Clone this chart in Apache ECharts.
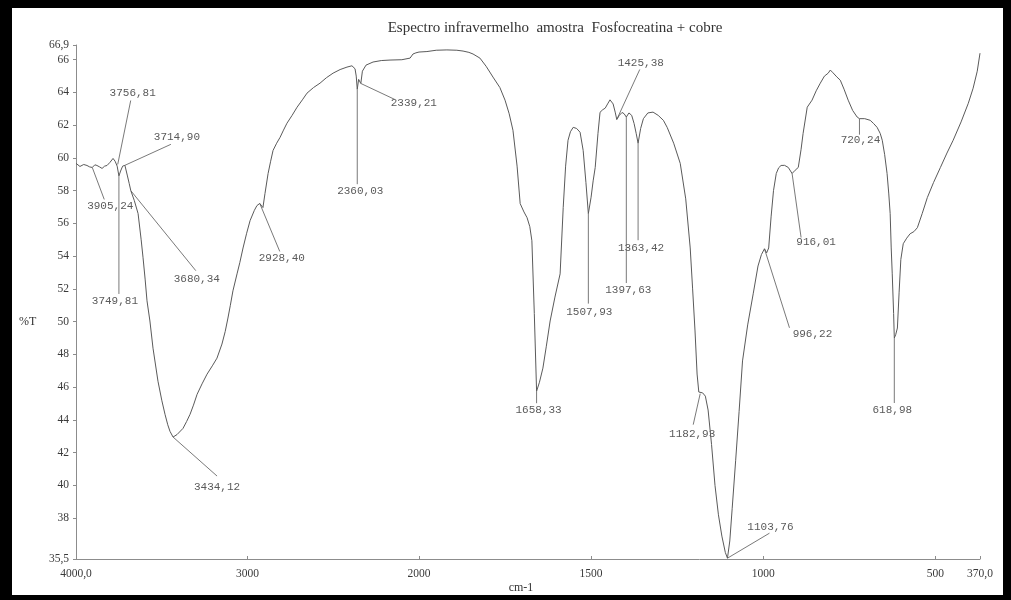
<!DOCTYPE html>
<html>
<head>
<meta charset="utf-8">
<script src="https://cdn.jsdelivr.net/npm/echarts@6.0.0/dist/echarts.min.js"></script>
<style>
  html, body { margin: 0; padding: 0; background: #000; }
  #chart { width: 1011px; height: 600px; }
</style>
</head>
<body>
<div id="chart"></div>
<script>
// IR spectrum: wavenumber (cm-1) against transmittance (%T)
const chartTitle = 'Espectro infravermelho  amostra  Fosfocreatina + cobre';
const yAxisTitle = '%T';
const xAxisTitle = 'cm-1';

const wavenumbers = [
  4000, 3977, 3955, 3936, 3920, 3905.24, 3890, 3878, 3862, 3848, 3833, 3819, 3802, 3784, 3772, 3760,
  3756.81, 3749.81, 3740, 3728, 3714.90, 3700, 3690, 3680.34, 3660, 3638, 3620, 3609, 3597, 3586, 3569,
  3551, 3522, 3500, 3481, 3465, 3452, 3434.12, 3411, 3376, 3355, 3335, 3315, 3294, 3265, 3236, 3205,
  3178, 3149, 3130, 3114, 3100, 3085, 3061, 3045, 3026, 3005, 2985, 2960, 2945, 2928.40, 2918, 2910,
  2898, 2880, 2865, 2851, 2830, 2810, 2790, 2770, 2740, 2711, 2680, 2653, 2615, 2577, 2540, 2501, 2460,
  2420, 2391, 2373, 2366, 2360.03, 2352, 2345, 2339.21, 2330, 2309, 2268, 2220, 2169, 2100, 2052, 2035,
  2018, 2000,
  1977, 1950, 1919, 1890, 1872, 1855, 1843, 1823, 1805, 1785, 1765, 1750, 1738, 1727, 1715, 1706, 1695,
  1686, 1678, 1672, 1665, 1658.33, 1650, 1640, 1630, 1619, 1605, 1590, 1581, 1574, 1567, 1560, 1552,
  1542, 1532, 1523, 1515, 1507.93, 1500, 1494, 1488, 1480, 1474, 1466, 1459, 1452, 1445, 1436, 1430,
  1425.38, 1418, 1410, 1404, 1397.63, 1390, 1382, 1375, 1369, 1363.42, 1356, 1348, 1335, 1320, 1305,
  1290, 1279, 1260, 1241, 1225, 1212, 1205, 1198, 1192, 1187, 1182.93, 1176, 1168, 1160, 1150, 1140,
  1130, 1120, 1110, 1103.76, 1097, 1090, 1080, 1070, 1060, 1045, 1029, 1015, 1005, 996.22, 990, 984,
  977, 970, 962, 955, 948, 938, 927, 916.01, 907, 898, 890, 884, 872, 858, 846, 834, 822, 811, 805, 797,
  786, 776, 765, 753, 740, 727, 720.24, 705, 689, 679, 669, 660, 654, 647, 640, 635, 631, 628, 625, 621,
  618.98, 615, 610, 605, 600, 593, 583, 573, 562, 552, 538, 523, 505, 485, 466, 448, 425, 404, 390, 378,
  370
];

const transmittance = [
  59.67, 59.48, 59.60, 59.54, 59.45, 59.42, 59.58, 59.54, 59.45, 59.36, 59.50, 59.54, 59.73, 59.97, 59.80, 59.50,
  59.60, 58.90, 59.20, 59.50, 59.55, 58.90, 58.45, 58.00, 57.40, 56.60, 55.00, 53.90, 52.60, 51.27, 50.04,
  48.38, 46.36, 45.20, 44.34, 43.70, 43.30, 42.95, 43.10, 43.48, 43.90, 44.34, 44.90, 45.56, 46.20, 46.79, 47.30,
  47.77, 48.63, 49.40, 50.22, 51.00, 51.88, 52.92, 53.60, 54.50, 55.40, 56.17, 56.80, 57.09, 57.22, 57.10, 56.97,
  57.83, 59.05, 59.80, 60.46, 60.90, 61.26, 61.70, 62.12, 62.60, 63.10, 63.55, 63.96, 64.30, 64.57, 64.90, 65.18, 65.40,
  65.55, 65.63, 65.45, 65.00, 64.20, 64.80, 64.75, 64.55, 65.30, 65.67, 65.86, 65.95, 65.98, 66.00, 66.10, 66.35,
  66.42, 66.47,
  66.50, 66.58, 66.60, 66.58, 66.53, 66.45, 66.35, 66.10, 65.60, 64.94, 64.30, 63.53, 62.70, 61.69, 59.50, 57.21, 56.70,
  56.35, 55.80, 54.94, 50.50, 45.75, 46.30, 47.16, 48.50, 50.04, 51.50, 52.92, 56.97, 59.50, 61.08, 61.60, 61.87,
  61.80, 61.57, 60.46, 58.50, 56.60, 57.60, 58.60, 59.42, 61.50, 62.79, 62.95, 63.04, 63.30, 63.55, 63.30, 62.80,
  62.35, 62.60, 62.78, 62.70, 62.50, 62.75, 62.60, 62.10, 61.50, 60.90, 61.80, 62.40, 62.75, 62.80, 62.60,
  62.30, 61.87, 60.90, 59.67, 57.50, 54.50, 52.00, 49.43, 46.80, 45.70, 45.60, 45.65, 45.45, 44.60, 42.50, 40.00,
  38.20, 36.90, 35.90, 35.55, 36.60, 38.60, 41.50, 44.50, 47.60, 49.80, 51.70, 53.40, 54.10, 54.45, 54.20, 54.50,
  56.40, 58.00, 59.05, 59.40, 59.54, 59.55, 59.42, 59.05, 59.25, 59.42, 60.50, 61.50, 63.10, 63.53, 64.10, 64.57, 65.00, 65.18, 65.37, 65.20,
  64.95, 64.75, 64.20, 63.53, 62.90, 62.50, 62.40, 62.40, 62.30, 62.10, 61.87, 61.50, 61.08, 60.20, 59.05, 57.80, 56.60, 54.50, 52.92, 50.50,
  49.00, 49.20, 49.61, 51.80, 53.80, 54.76, 55.10, 55.37, 55.50, 55.74, 56.60, 57.58, 58.50, 59.42, 60.30, 61.08, 62.20, 63.34, 64.26, 65.30,
  66.40
];

// Annotated band positions (cm-1)
const peakWavenumbers = [
  3905.24, 3756.81, 3749.81, 3714.90, 3680.34, 3434.12, 2928.40, 2360.03, 2339.21,
  1658.33, 1507.93, 1425.38, 1397.63, 1363.42, 1182.93, 1103.76, 996.22, 916.01, 720.24, 618.98
];

// Leader end and text centre, in pixels relative to the band point: [lx, ly, tx, ty]
const peakLabelLayout = [
  [12, 32, 18, 39], [13, -64, 15, -71], [0, 118, -4, 125], [46, -21, 52, -28], [65, 80, 66, 88],
  [44, 39, 44, 50], [20, 48, 22, 55], [0, 95, 3, 102], [34, 16, 53, 20],
  [0, 12, 2, 19], [0, 90, 1, 98], [23, -50, 24, -56], [0, 166, 2, 173], [0, 97, 3, 105],
  [-7, 31, -8, 40], [42, -25, 43, -31], [25, 79, 48, 85], [9, 64, 24, 69], [0, 16, 1, 21], [0, 65, -2, 72]
];

const yTickValues = [35.5, 38, 40, 42, 44, 46, 48, 50, 52, 54, 56, 58, 60, 62, 64, 66, 66.9];
const xTicksHigh = [4000, 3000, 2000];
const xTicksLow = [1500, 1000, 500, 370];

// The spectrometer plot changes scale at 2000 cm-1, so the range is split over two grids
const SPLIT = 2000;
const highPart = [], lowPart = [];
wavenumbers.forEach((w, i) => {
  if (w >= SPLIT) highPart.push([w, transmittance[i]]);
  if (w <= SPLIT) lowPart.push([w, transmittance[i]]);
});

const highPeaks = [], lowPeaks = [];
peakWavenumbers.forEach((w, i) => {
  const t = transmittance[wavenumbers.indexOf(w)];
  const row = [w, t].concat(peakLabelLayout[i]);
  (w >= SPLIT ? highPeaks : lowPeaks).push(row);
});

const comma = (v, digits) => v.toFixed(digits).replace('.', ',');

function renderPeak(params, api) {
  const p = api.coord([api.value(0), api.value(1)]);
  const lx = api.value(2), ly = api.value(3), tx = api.value(4), ty = api.value(5);
  return {
    type: 'group',
    children: [
      { type: 'line', shape: { x1: p[0], y1: p[1], x2: p[0] + lx, y2: p[1] + ly },
        style: { stroke: '#6a6a6a', lineWidth: 0.9 } },
      { type: 'text', x: p[0] + tx, y: p[1] + ty,
        style: { text: comma(api.value(0), 2), fill: '#5a5a5a',
                 font: '11px "Liberation Mono", monospace', align: 'center', verticalAlign: 'middle' } }
    ]
  };
}

const serif = '"Liberation Serif", "DejaVu Serif", serif';
const axisLineStyle = { color: '#8c8c8c', width: 1 };
const tickLabelStyle = { color: '#3a3a3a', fontFamily: serif, fontSize: 11.5 };

const xLabelFormatter = v => (v === 4000 || v === 370) ? comma(v, 1) : String(v);

const chart = echarts.init(document.getElementById('chart'), null, { renderer: 'canvas' });
chart.setOption({
  backgroundColor: '#000',
  animation: false,
  graphic: [
    { type: 'rect', z: -10, shape: { x: 12, y: 8, width: 991, height: 587 }, style: { fill: '#fff' } },
    { type: 'text', x: 555, y: 28, z: 10,
      style: { text: chartTitle, fill: '#333', font: '15px ' + serif, align: 'center', verticalAlign: 'middle' } },
    { type: 'text', x: 19, y: 322, z: 10,
      style: { text: yAxisTitle, fill: '#333', font: '12px ' + serif, align: 'left', verticalAlign: 'middle' } },
    { type: 'text', x: 521, y: 588, z: 10,
      style: { text: xAxisTitle, fill: '#333', font: '12px ' + serif, align: 'center', verticalAlign: 'middle' } }
  ],
  grid: [
    { left: 76, right: 1011 - 419, top: 45, bottom: 41 },
    { left: 419, right: 31, top: 45, bottom: 41 }
  ],
  xAxis: [
    { type: 'value', gridIndex: 0, min: SPLIT, max: 4000, inverse: true,
      axisLine: { lineStyle: axisLineStyle },
      axisTick: { inside: true, length: 3, customValues: xTicksHigh, lineStyle: axisLineStyle },
      axisLabel: Object.assign({ customValues: xTicksHigh, formatter: xLabelFormatter, margin: 9 }, tickLabelStyle),
      splitLine: { show: false } },
    { type: 'value', gridIndex: 1, min: 370, max: SPLIT, inverse: true,
      axisLine: { lineStyle: axisLineStyle },
      axisTick: { inside: true, length: 3, customValues: xTicksLow, lineStyle: axisLineStyle },
      axisLabel: Object.assign({ customValues: xTicksLow, formatter: xLabelFormatter, margin: 9 }, tickLabelStyle),
      splitLine: { show: false } }
  ],
  yAxis: [
    { type: 'value', gridIndex: 0, min: 35.5, max: 66.9,
      axisLine: { show: true, lineStyle: axisLineStyle },
      axisTick: { show: true, length: 3, customValues: yTickValues, lineStyle: axisLineStyle },
      axisLabel: Object.assign({ customValues: yTickValues, formatter: v => comma(v, Number.isInteger(v) ? 0 : 1), margin: 7 }, tickLabelStyle),
      splitLine: { show: false } },
    { type: 'value', gridIndex: 1, min: 35.5, max: 66.9, show: false, splitLine: { show: false } }
  ],
  series: [
    { type: 'line', xAxisIndex: 0, yAxisIndex: 0, data: highPart, showSymbol: false, silent: true,
      lineStyle: { color: '#5a5a5a', width: 1 } },
    { type: 'line', xAxisIndex: 1, yAxisIndex: 1, data: lowPart, showSymbol: false, silent: true,
      lineStyle: { color: '#5a5a5a', width: 1 } },
    { type: 'custom', xAxisIndex: 0, yAxisIndex: 0, data: highPeaks, renderItem: renderPeak,
      encode: { x: 0, y: 1 }, clip: false, silent: true, z: 3 },
    { type: 'custom', xAxisIndex: 1, yAxisIndex: 1, data: lowPeaks, renderItem: renderPeak,
      encode: { x: 0, y: 1 }, clip: false, silent: true, z: 3 }
  ]
});
</script>
</body>
</html>
